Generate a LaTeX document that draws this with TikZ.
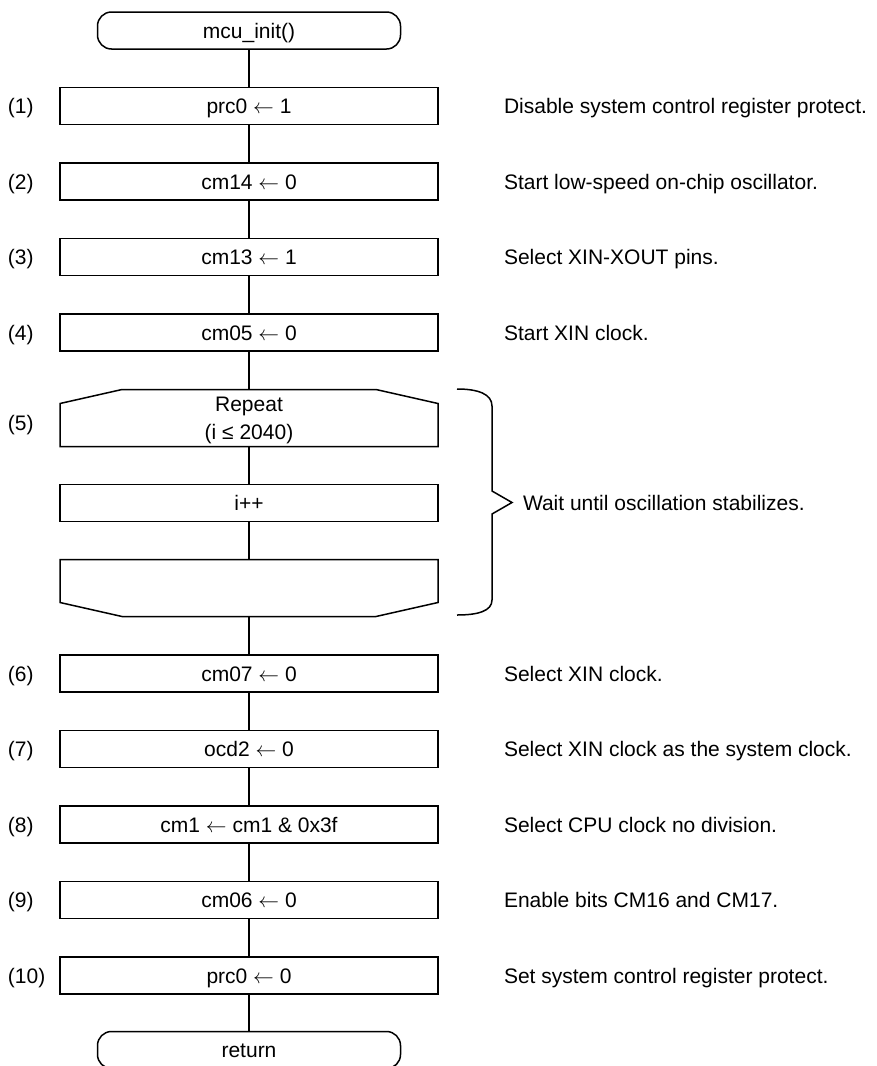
\documentclass[tikz,border=0pt]{standalone}
\usepackage{fontspec}
\setmainfont{Liberation Sans}
\usetikzlibrary{positioning,calc}

\newcommand{\getsarrow}{\ensuremath{\leftarrow}}

\begin{document}
\begin{tikzpicture}[
    x=1pt, y=-1pt, line width=1.5pt,
    node distance=38.5pt,
    every node/.style={font=\fontsize{21}{28}\selectfont, inner sep=0pt, outer sep=0pt,
                       text height=15pt, text depth=0pt},
    procbox/.style={draw, minimum width=378pt, minimum height=37pt},
    termbox/.style={draw, rounded corners=14pt, minimum width=303pt, minimum height=37pt},
    loopbox/.style={minimum width=378pt, minimum height=57pt, align=center},
    stepnum/.style={anchor=west},
    remark/.style={anchor=west},
  ]
  \useasboundingbox (0,0) rectangle (876,1066);

  % === Main chain ===
  \node[termbox] (start) at (249,30.5) {mcu\_init()};
  \node[procbox, below=of start] (s1) {prc0 \getsarrow{} 1};
  \node[procbox, below=of s1] (s2) {cm14 \getsarrow{} 0};
  \node[procbox, below=of s2] (s3) {cm13 \getsarrow{} 1};
  \node[procbox, below=of s3] (s4) {cm05 \getsarrow{} 0};

  % Loop (wait for oscillation)
  \node[loopbox, text height=43pt, below=of s4] (loopA) {Repeat\\(i ≤ 2040)};
  \node[procbox, below=38pt of loopA] (ipp) {i++};
  \node[loopbox, below=38pt of ipp] (loopB) {};
  \draw (loopA.south west) -- ($(loopA.north west)+(0,14)$) -- ($(loopA.north west)+(62,0)$)
        -- ($(loopA.north east)+(-62,0)$) -- ($(loopA.north east)+(0,14)$) -- (loopA.south east) -- cycle;
  \draw (loopB.north west) -- ($(loopB.south west)+(0,-14)$) -- ($(loopB.south west)+(62,0)$)
        -- ($(loopB.south east)+(-62,0)$) -- ($(loopB.south east)+(0,-14)$) -- (loopB.north east) -- cycle;

  \node[procbox, below=of loopB] (s6) {cm07 \getsarrow{} 0};
  \node[procbox, below=of s6] (s7) {ocd2 \getsarrow{} 0};
  \node[procbox, below=of s7] (s8) {cm1 \getsarrow{} cm1 \& 0x3f};
  \node[procbox, below=of s8] (s9) {cm06 \getsarrow{} 0};
  \node[procbox, below=of s9] (s10) {prc0 \getsarrow{} 0};
  \node[termbox, below=37.5pt of s10] (ret) {return};

  % Connectors
  \draw (start) -- (s1);
  \draw (s1) -- (s2);
  \draw (s2) -- (s3);
  \draw (s3) -- (s4);
  \draw (s4) -- (loopA);
  \draw (loopA) -- (ipp);
  \draw (ipp) -- (loopB);
  \draw (loopB) -- (s6);
  \draw (s6) -- (s7);
  \draw (s7) -- (s8);
  \draw (s8) -- (s9);
  \draw (s9) -- (s10);
  \draw (s10) -- (ret);

  % Step numbers
  \node[stepnum] (n1) at (8,0 |- s1) {(1)};
  \node[stepnum] (n2) at (8,0 |- s2) {(2)};
  \node[stepnum] (n3) at (8,0 |- s3) {(3)};
  \node[stepnum] (n4) at (8,0 |- s4) {(4)};
  \node[stepnum] (n5) at (8,423) {(5)};
  \node[stepnum] (n6) at (8,0 |- s6) {(6)};
  \node[stepnum] (n7) at (8,0 |- s7) {(7)};
  \node[stepnum] (n8) at (8,0 |- s8) {(8)};
  \node[stepnum] (n9) at (8,0 |- s9) {(9)};
  \node[stepnum] (n10) at (8,0 |- s10) {(10)};

  % Remarks
  \node[remark] (r1) at (504,0 |- s1) {Disable system control register protect.};
  \node[remark] (r2) at (504,0 |- s2) {Start low-speed on-chip oscillator.};
  \node[remark] (r3) at (504,0 |- s3) {Select XIN-XOUT pins.};
  \node[remark] (r4) at (504,0 |- s4) {Start XIN clock.};
  \node[remark] (r6) at (504,0 |- s6) {Select XIN clock.};
  \node[remark] (r7) at (504,0 |- s7) {Select XIN clock as the system clock.};
  \node[remark] (r8) at (504,0 |- s8) {Select CPU clock no division.};
  \node[remark] (r9) at (504,0 |- s9) {Enable bits CM16 and CM17.};
  \node[remark] (r10) at (504,0 |- s10) {Set system control register protect.};

  % Brace round the loop
  \coordinate (brtip) at (512,502.5);
  \draw (457,389) .. controls (478,389) and (492,394) .. (492,406) -- (492,491) -- (brtip)
        -- (492,514) -- (492,600) .. controls (492,611) and (478,615) .. (457,615);
  \node[remark, right=11pt of brtip] (waitnote) {Wait until oscillation stabilizes.};

\end{tikzpicture}
\end{document}
